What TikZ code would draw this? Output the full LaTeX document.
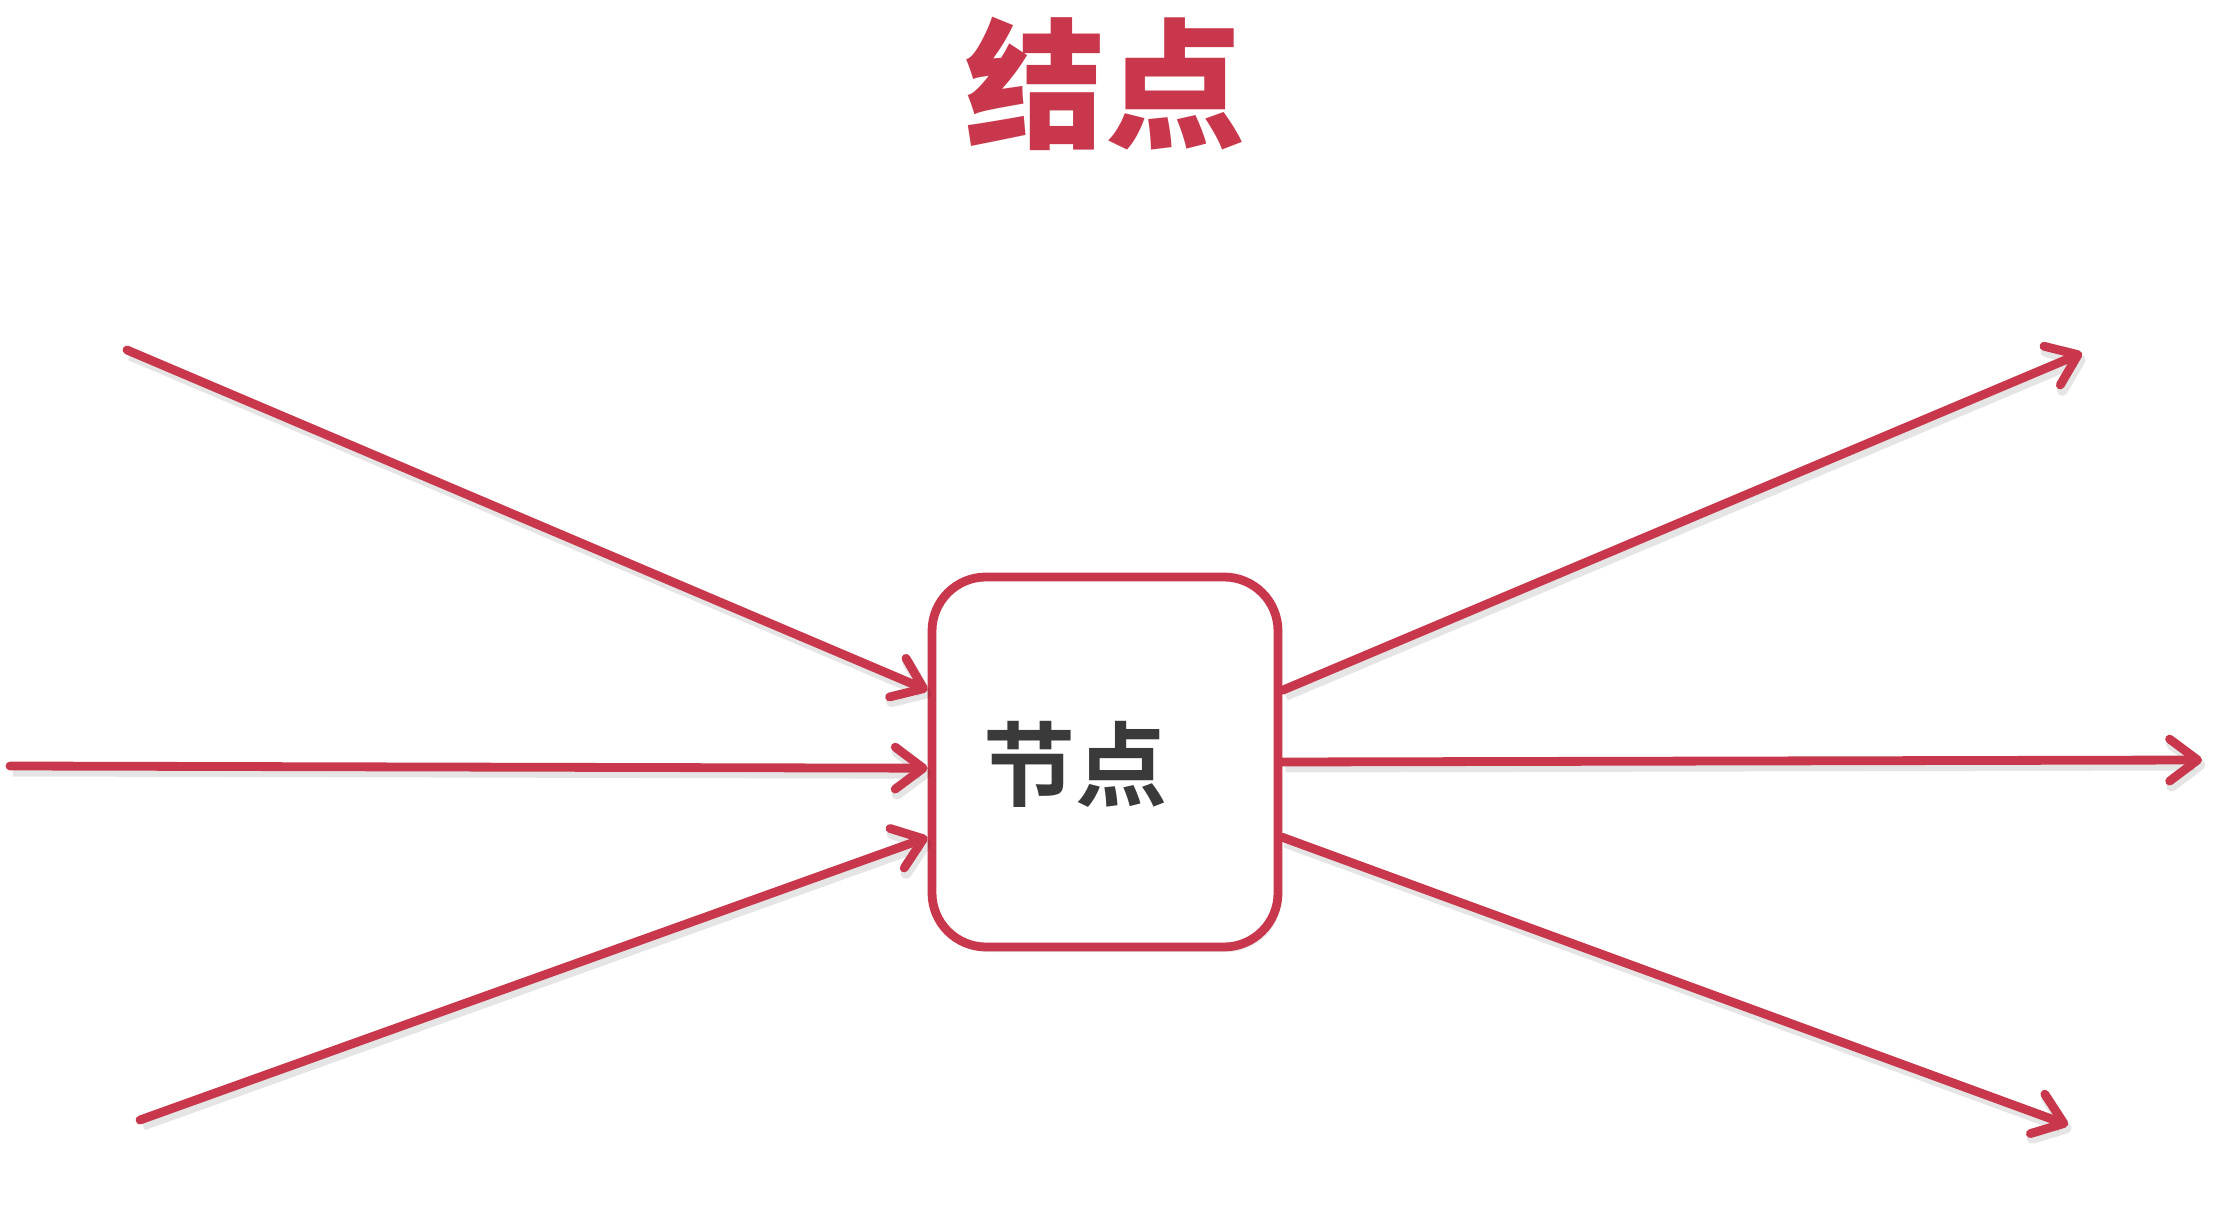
\documentclass[tikz,border=0pt]{standalone}
\usepackage{fontspec}
\newfontfamily\cjkbold{Noto Sans CJK SC Bold}
\newfontfamily\cjkblack{Noto Sans CJK SC Black}
\usetikzlibrary{arrows.meta}
\definecolor{linkred}{HTML}{C8374C}
\definecolor{inkgray}{HTML}{3A3A3A}
\tikzset{
  flow/.style={draw=linkred, line width=4.4pt, line cap=round,
    -{Straight Barb[round,length=14pt,width=21pt]},
    preaction={draw=black, opacity=0.10, line width=5.5pt,
      transform canvas={shift={(1.5pt,-2.5pt)}}}},
  nodebox/.style={draw=linkred, line width=4.4pt, rounded corners=27pt,
    fill=white, minimum width=173pt, minimum height=185pt,
    preaction={fill=black, opacity=0.08,
      transform canvas={shift={(1.5pt,-2.5pt)}}}},
  heading/.style={text=linkred, font=\cjkblack\fontsize{70}{70}\selectfont},
  label/.style={text=inkgray, font=\cjkbold\fontsize{46}{46}\selectfont}
}
\begin{document}
\begin{tikzpicture}[x=0.5pt, y=-0.5pt]
  \useasboundingbox (0,0) rectangle (2238,1218);
  \fill[white] (0,0) rectangle (2238,1218);

  % title
  \node[heading] (title) at (1105,84) {结点};

  % the node with its incoming and outgoing links
  \node[nodebox] (box) at (1105,762) {};
  \node[label] (boxtext) at (1075,764) {节点};

  \coordinate (in1) at (127,350);
  \coordinate (in2) at (10,766);
  \coordinate (in3) at (140,1120);
  \coordinate (out1) at (2082,353);
  \coordinate (out2) at (2202,760);
  \coordinate (out3) at (2068,1125);

  \draw[flow] (in1) -- (box.158);
  \draw[flow] (in2) -- (box.182);
  \draw[flow] (in3) -- (box.203.7);
  \draw[flow] (box.22) -- (out1);
  \draw[flow] (box.-0.7) -- (out2);
  \draw[flow] (box.-23.7) -- (out3);
\end{tikzpicture}
\end{document}
